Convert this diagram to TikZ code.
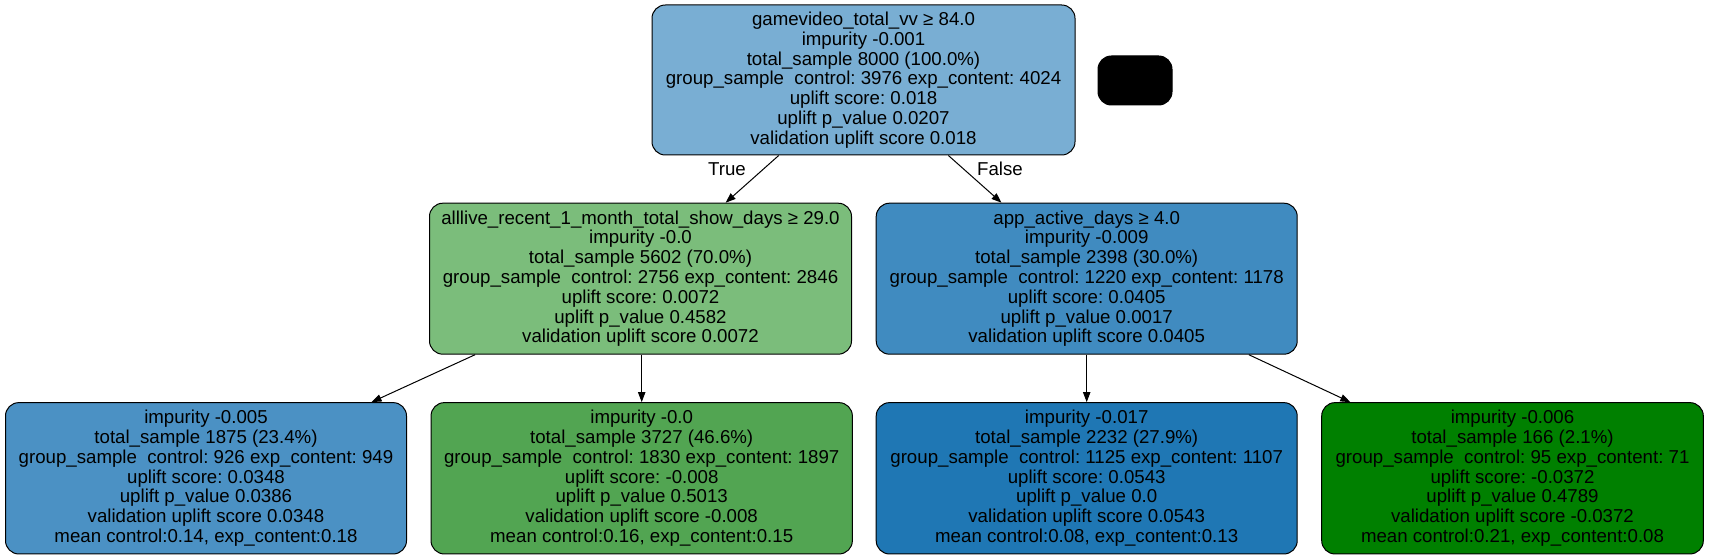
\documentclass[tikz,border=0pt]{standalone}
\usepackage{fontspec}
\setmainfont{Liberation Sans}
\usetikzlibrary{arrows.meta}
\definecolor{cRoot}{HTML}{79AED3}
\definecolor{cMidL}{HTML}{7BBD7B}
\definecolor{cMidR}{HTML}{408BC0}
\definecolor{cLeafA}{HTML}{4B91C4}
\definecolor{cLeafB}{HTML}{52A552}
\definecolor{cLeafC}{HTML}{1F77B4}
\definecolor{cLeafD}{HTML}{008000}
\tikzset{
  treenode/.style={draw=black, line width=0.75pt, rounded corners=10pt, align=center,
    inner sep=0pt, minimum height=113.25pt, font=\fontsize{14}{14.85}\selectfont\frenchspacing},
  edgearrow/.style={draw=black, line width=0.75pt, -{Triangle[length=7.5pt,width=5.5pt]}},
  edgelabel/.style={font=\fontsize{14}{14.85}\selectfont, inner sep=0pt}
}
\begin{document}
\begin{tikzpicture}[x=0.75pt,y=-0.75pt]
\useasboundingbox (0,0) rectangle (1709,559);
\node[treenode, fill=cRoot, minimum width=317.25pt, minimum height=112.5pt] (root) at (863.5,80)
 {gamevideo\_total\_vv ≥ 84.0\\impurity -0.001\\total\_sample 8000 (100.0\%)\\group\_sample\ \ control: 3976 exp\_content: 4024\\uplift score: 0.018\\uplift p\_value 0.0207\\validation uplift score 0.018};
\node[draw=black, fill=black, line width=0.75pt, rounded corners=10pt, minimum width=55.5pt, minimum height=36.75pt, inner sep=0pt] (blank) at (1135,80.5) {};
\node[treenode, fill=cMidL, minimum width=316.5pt] (midl) at (640.5,278.7)
 {alllive\_recent\_1\_month\_total\_show\_days ≥ 29.0\\impurity -0.0\\total\_sample 5602 (70.0\%)\\group\_sample\ \ control: 2756 exp\_content: 2846\\uplift score: 0.0072\\uplift p\_value 0.4582\\validation uplift score 0.0072};
\node[treenode, fill=cMidR, minimum width=315.75pt] (midr) at (1086.7,278.7)
 {app\_active\_days ≥ 4.0\\impurity -0.009\\total\_sample 2398 (30.0\%)\\group\_sample\ \ control: 1220 exp\_content: 1178\\uplift score: 0.0405\\uplift p\_value 0.0017\\validation uplift score 0.0405};
\node[treenode, fill=cLeafA, minimum width=300.75pt, minimum height=113.5pt] (leafa) at (206,478.3)
 {impurity -0.005\\total\_sample 1875 (23.4\%)\\group\_sample\ \ control: 926 exp\_content: 949\\uplift score: 0.0348\\uplift p\_value 0.0386\\validation uplift score 0.0348\\mean control:0.14, exp\_content:0.18};
\node[treenode, fill=cLeafB, minimum width=316pt, minimum height=113.5pt] (leafb) at (641.7,478.3)
 {impurity -0.0\\total\_sample 3727 (46.6\%)\\group\_sample\ \ control: 1830 exp\_content: 1897\\uplift score: -0.008\\uplift p\_value 0.5013\\validation uplift score -0.008\\mean control:0.16, exp\_content:0.15};
\node[treenode, fill=cLeafC, minimum width=315.75pt, minimum height=113.5pt] (leafc) at (1086.7,478.3)
 {impurity -0.017\\total\_sample 2232 (27.9\%)\\group\_sample\ \ control: 1125 exp\_content: 1107\\uplift score: 0.0543\\uplift p\_value 0.0\\validation uplift score 0.0543\\mean control:0.08, exp\_content:0.13};
\node[treenode, fill=cLeafD, minimum width=286.2pt, minimum height=113.5pt] (leafd) at (1512.5,478.3)
 {impurity -0.006\\total\_sample 166 (2.1\%)\\group\_sample\ \ control: 95 exp\_content: 71\\uplift score: -0.0372\\uplift p\_value 0.4789\\validation uplift score -0.0372\\mean control:0.21, exp\_content:0.08};
\draw[edgearrow] (root) -- (midl);
\draw[edgearrow] (root) -- (midr);
\draw[edgearrow] (midl) -- (leafa);
\draw[edgearrow] (midl.south -| leafb) -- (leafb);
\draw[edgearrow] (midr) -- (leafc);
\draw[edgearrow] (midr) -- (leafd);
\node[edgelabel] (ltrue) at (727,169) {True};
\node[edgelabel] (lfalse) at (1000,169) {False};
\end{tikzpicture}
\end{document}
